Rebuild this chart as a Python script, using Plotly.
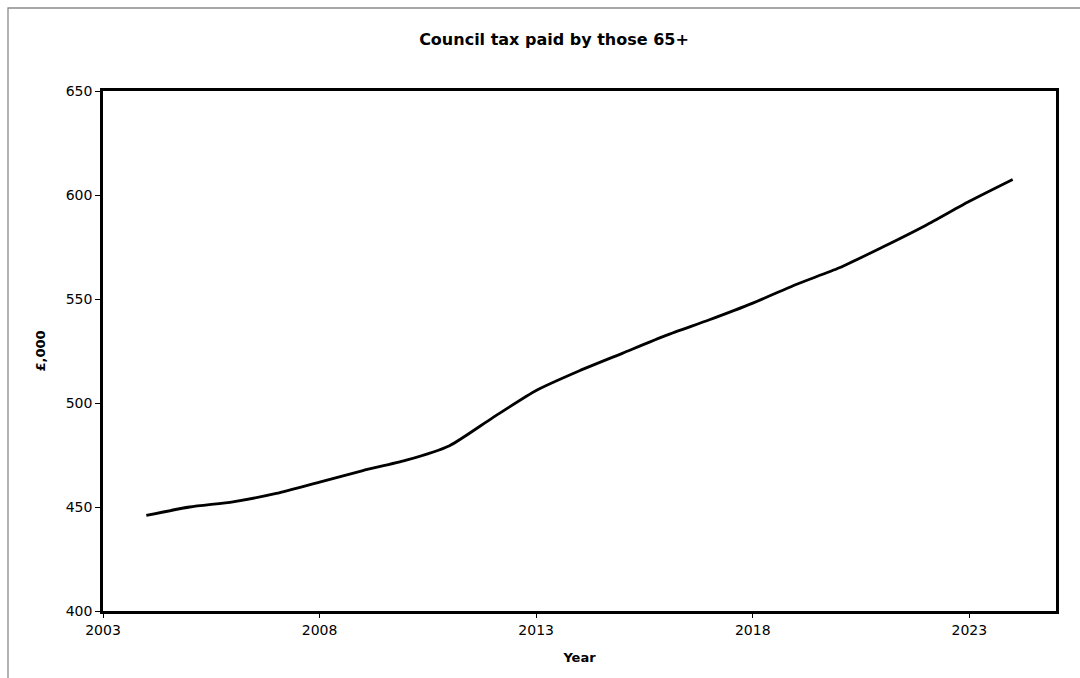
import plotly.graph_objects as go

# Council tax paid by residents aged 65+, £ thousands
years = [2004, 2005, 2006, 2007, 2008, 2009, 2010, 2011, 2012, 2013, 2014,
         2015, 2016, 2017, 2018, 2019, 2020, 2021, 2022, 2023, 2024]
tax_paid = [446, 450, 452.5, 456.5, 462, 467.5, 472.5, 479.5, 493, 506, 515.5,
            524, 532.5, 540, 548, 557, 565, 575, 585.5, 597, 607.5]

x_ticks = [2003, 2008, 2013, 2018, 2023]
y_ticks = [400, 450, 500, 550, 600, 650]

FONT = "DejaVu Sans, Verdana, sans-serif"

fig = go.Figure()
fig.add_trace(go.Scatter(
    x=years, y=tax_paid, mode="lines",
    line=dict(color="black", width=2.8, shape="spline", smoothing=0.6),
    showlegend=False, hoverinfo="x+y",
))

W, H = 1080, 678
L, R, T, B = 103, 24, 91, 67
pw, ph = W - L - R, H - T - B

def px_to_paper_x(px):
    return (px - L) / pw

def px_to_paper_y(py):
    return (H - B - py) / ph

fig.update_layout(
    width=W, height=H,
    margin=dict(l=L, r=R, t=T, b=B),
    paper_bgcolor="white", plot_bgcolor="white",
    font=dict(family=FONT, color="black", size=14),
    title=dict(text="<b>Council tax paid by those 65+</b>",
               x=554 / W, xanchor="center", y=1 - 39 / H, yanchor="middle",
               font=dict(size=16, family=FONT, color="black")),
    xaxis=dict(range=[2003, 2025], tickvals=x_ticks, ticktext=[str(v) for v in x_ticks],
               showgrid=False, zeroline=False, showline=True, linecolor="black",
               linewidth=2.5, mirror=True, ticks="outside", ticklen=4, tickwidth=1,
               tickcolor="black", tickfont=dict(size=14),
               title=dict(text="<b>Year</b>", font=dict(size=13), standoff=17)),
    yaxis=dict(range=[400, 650], tickvals=y_ticks,
               showgrid=False, zeroline=False, showline=True, linecolor="black",
               linewidth=2.5, mirror=True, ticks="outside", ticklen=5, tickwidth=1,
               tickcolor="black", tickfont=dict(size=14),
               title=dict(text="<b>£,000</b>", font=dict(size=13), standoff=18)),
)

# Thin outer frame around the chart area
fig.add_shape(type="rect", xref="paper", yref="paper",
              x0=px_to_paper_x(8), x1=px_to_paper_x(W + 20),
              y0=px_to_paper_y(H + 20), y1=px_to_paper_y(8),
              line=dict(color="#8a8a8a", width=1.3), fillcolor="rgba(0,0,0,0)",
              layer="below")

fig.write_html("out.html")
